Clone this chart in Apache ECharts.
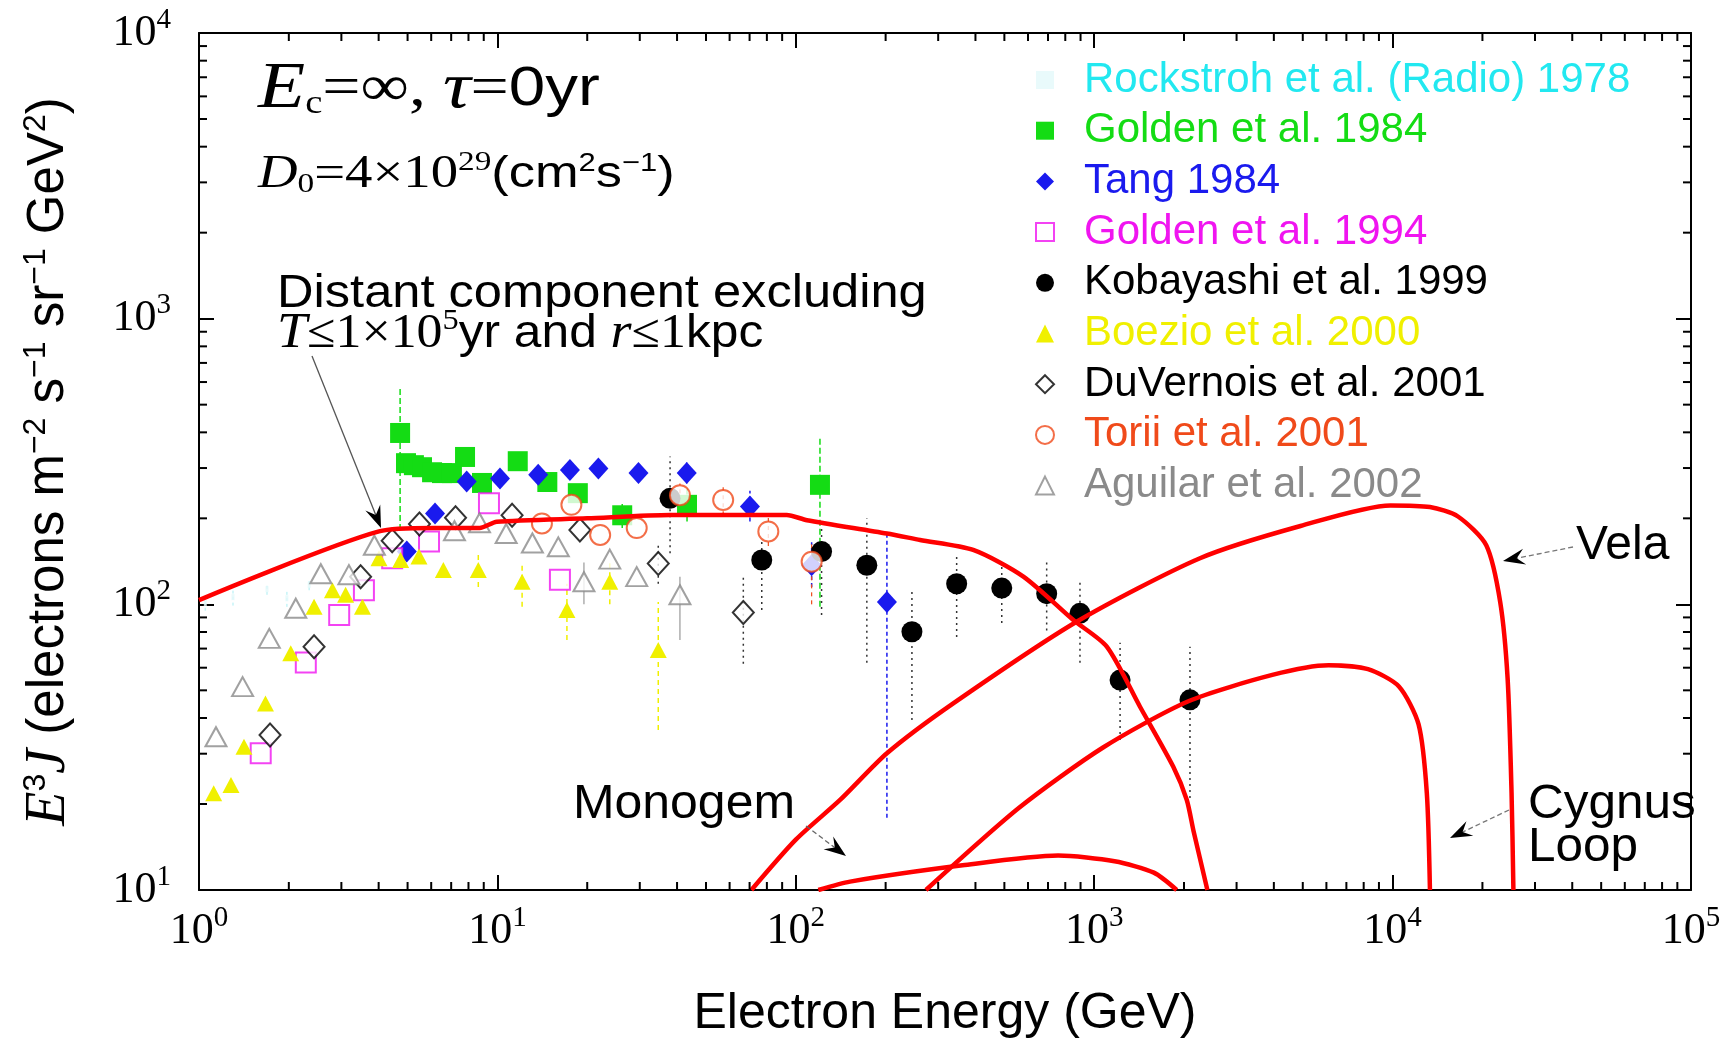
<!DOCTYPE html>
<html><head><meta charset="utf-8">
<script src="https://cdn.jsdelivr.net/npm/echarts/dist/echarts.min.js"></script>
<style>html,body{margin:0;padding:0;background:#fff;}#c{width:1733px;height:1047px;}</style>
</head><body><div id="c"></div>
<script>
// ---------- axis ticks (decade exponents) ----------
const xTickExps = [0, 1, 2, 3, 4, 5];
const yTickExps = [1, 2, 3, 4];

// ---------- legend ----------
const seriesNames = ['Rockstroh et al. (Radio) 1978', 'Golden et al. 1984', 'Tang 1984', 'Golden et al. 1994',
  'Kobayashi et al. 1999', 'Boezio et al. 2000', 'DuVernois et al. 2001', 'Torii et al. 2001', 'Aguilar et al. 2002'];
const seriesColors = ['#22e8f0', '#14dc14', '#1a1aee', '#f014f0', '#000000', '#f0f000', '#000000', '#f04a1a', '#8a8a8a'];

// ---------- data points [E (GeV), E^3 J] ----------
const rockstroh = [[1.05, 101], [1.3, 106], [1.69, 113], [1.97, 105], [2.34, 117]];
const golden84 = [[4.72, 398], [4.94, 312], [5.25, 307], [5.59, 302], [6.04, 290], [6.52, 288], [7.04, 288], [7.79, 328],
  [8.88, 266], [11.7, 317], [14.7, 268], [18.6, 245], [26.2, 205], [43.2, 223], [120.5, 262]];
const tang84 = [[4.97, 153], [6.18, 208], [7.89, 269], [10.2, 276], [13.7, 284], [17.5, 295], [21.8, 299], [29.7, 288],
  [43.1, 288], [70.2, 220], [113, 137], [202, 102]];
const golden94 = [[1.61, 30.1], [2.28, 62.6], [2.95, 91.8], [3.57, 112], [4.44, 145], [5.90, 166], [9.37, 226], [16.2, 122]];
const kobayashi = [[37.9, 235], [76.9, 143], [122, 153], [173, 137], [245, 80.2], [346, 118], [490, 114], [693, 109],
  [896, 93], [1221, 54.3], [2094, 46.3]];
const boezio = [[1.12, 21.8], [1.28, 23.3], [1.415, 31.7], [1.67, 45.0], [2.03, 67.4], [2.43, 98.1], [2.80, 112], [3.10, 108],
  [3.53, 98.1], [4.01, 145], [4.74, 143], [5.46, 147], [6.59, 132], [8.63, 132], [12.1, 120], [17.1, 95.5], [23.8, 120], [34.6, 69.2]];
const duvernois = [[1.73, 34.9], [2.43, 71.1], [3.48, 125], [4.44, 167], [5.48, 191], [7.24, 201], [11.2, 205], [18.9, 182],
  [34.6, 139], [66.7, 93.6]];
const torii = [[14.1, 192], [17.7, 223], [22.1, 175], [29.3, 185], [40.9, 241], [57.1, 232], [80.9, 180], [113, 141]];
const aguilar = [[1.14, 34.4], [1.40, 51.5], [1.72, 76.0], [2.11, 96.9], [2.56, 128], [3.18, 127], [3.87, 161], [7.18, 181],
  [8.71, 193], [10.7, 177], [13.1, 164], [16.0, 159], [19.5, 120], [23.8, 144], [29.3, 125], [40.9, 108]];

// ---------- error bars [E, low, high] ----------
const rockstrohErr = [[1.05, 95, 108], [1.3, 99, 113], [1.69, 108, 119], [1.97, 98, 112], [2.34, 112, 122]];
const golden84Err = [[4.72, 182, 577], [26.2, 185, 230], [43.2, 195, 260], [120.5, 98, 385]];
const tangErr = [[43.1, 265, 315], [70.2, 195, 250], [113, 115, 165], [202, 17.9, 175]];
const kobayashiErr = [[37.9, 151, 329], [76.9, 95.5, 168], [122, 91.8, 190], [173, 62.4, 200], [245, 39.4, 114], [346, 76.9, 149],
  [490, 86, 135], [693, 81, 143], [896, 62.4, 122], [1221, 33.5, 73.3], [2094, 21, 71]];
const boezioErr = [[8.63, 115, 150], [12.1, 98, 140], [17.1, 75, 118], [23.8, 100, 140], [34.6, 36.3, 102]];
const duvernoisErr = [[34.6, 118, 165], [66.7, 62, 125]];
const toriiErr = [[40.9, 215, 265], [57.1, 205, 265], [80.9, 160, 205], [113, 100, 165]];
const aguilarErr = [[19.5, 100, 140], [40.9, 75, 125]];

// ---------- model curves ----------
const distantE = [1, 4.01, 6.05, 8.72, 9.95, 20, 37.9, 93.2, 109, 202, 261, 393, 579, 851, 1102, 1424, 1841, 2042, 2152, 2395];
const distantV = [103.5, 180, 185, 185, 194.5, 200, 205.5, 205.5, 197, 177, 168, 155, 125, 88.1, 71.1, 43.8, 27.0, 20.7, 16.1, 10];
const velaE = [71, 100, 141, 202, 337, 873, 2262, 4913, 9840, 13340, 16560, 20600, 22950, 24290, 25040, 25400];
const velaV = [10, 15, 20.7, 30.1, 45, 86.9, 145, 188, 222, 219, 203, 161, 101.6, 55, 21.9, 10];
const cygnusE = [273, 560, 1074, 2060, 3953, 6100, 8270, 10500, 12220, 13020, 13340];
const cygnusV = [10, 19.4, 31.6, 45.7, 56.6, 61.2, 59.3, 51.6, 38, 21.9, 10];
const monogemE = [119, 152, 362, 757, 1170, 1585, 1890];
const monogemV = [10, 10.7, 12.2, 13.2, 12.6, 11.5, 10];

// ---------- build ----------
const X0 = Math.pow(10, xTickExps[0]), X1 = Math.pow(10, xTickExps[xTickExps.length - 1]);
const Y0 = Math.pow(10, yTickExps[0]), Y1 = Math.pow(10, yTickExps[yTickExps.length - 1]);
const minorX = [], minorY = [];
for (let k = xTickExps[0]; k < xTickExps[xTickExps.length - 1]; k++) for (let m = 2; m <= 9; m++) minorX.push([m * Math.pow(10, k), Y0]);
for (let k = yTickExps[0]; k < yTickExps[yTickExps.length - 1]; k++) for (let m = 2; m <= 9; m++) minorY.push([X0, m * Math.pow(10, k)]);

const zip = (a, b) => a.map((v, i) => [v, b[i]]);
const tickRich = {
  b: { fontFamily: 'Liberation Serif', fontSize: 44, color: '#000' },
  s: { fontFamily: 'Liberation Serif', fontSize: 29, color: '#000', padding: [0, 0, 26, 0] }
};
const tickFmt = v => '{b|10}{s|' + Math.round(Math.log10(v)) + '}';

function errSeries(data, color, dash, width) {
  return {
    type: 'custom', name: 'err', data: data, z: 2, silent: true,
    encode: { x: 0, y: [1, 2] },
    renderItem: (params, api) => {
      const p1 = api.coord([api.value(0), api.value(1)]);
      const p2 = api.coord([api.value(0), api.value(2)]);
      return { type: 'line', shape: { x1: p1[0], y1: p1[1], x2: p2[0], y2: p2[1] },
        style: { stroke: color, lineWidth: width, lineDash: dash } };
    }
  };
}
function minorSeries(data, isX) {
  return {
    type: 'custom', name: 'minor', data: data, z: 5, silent: true,
    encode: { x: 0, y: 1 },
    renderItem: (params, api) => {
      const st = { stroke: '#000', lineWidth: 2 };
      if (isX) {
        const v = api.value(0);
        const p = api.coord([v, Y0]), q = api.coord([v, Y1]);
        return { type: 'group', children: [
          { type: 'line', shape: { x1: p[0], y1: p[1], x2: p[0], y2: p[1] - 8 }, style: st },
          { type: 'line', shape: { x1: q[0], y1: q[1], x2: q[0], y2: q[1] + 8 }, style: st }] };
      } else {
        const v = api.value(1);
        const p = api.coord([X0, v]), q = api.coord([X1, v]);
        return { type: 'group', children: [
          { type: 'line', shape: { x1: p[0], y1: p[1], x2: p[0] + 8, y2: p[1] }, style: st },
          { type: 'line', shape: { x1: q[0], y1: q[1], x2: q[0] - 8, y2: q[1] }, style: st }] };
      }
    }
  };
}
function scatter(i, data, symbol, size, extra) {
  return Object.assign({
    type: 'scatter', name: seriesNames[i], data: data, symbol: symbol, symbolSize: size, z: 3,
    itemStyle: { color: seriesColors[i], borderColor: seriesColors[i], borderWidth: 0, opacity: 1 }
  }, extra || {});
}
function curve(E, V) {
  return { type: 'line', name: 'curve', data: zip(E, V), showSymbol: false, symbol: 'none', smooth: 0.25, z: 4,
    lineStyle: { color: '#f00', width: 4.5 }, silent: true, clip: true };
}

// annotation helpers
const SER = 'Liberation Serif', SAN = 'Liberation Sans';
function txt(x, y, text, rich, sx) {
  return { type: 'text', x: x, y: y, scaleX: sx || 1, z: 50,
    style: { text: text, rich: rich, align: 'left', verticalAlign: 'middle', fill: '#000' } };
}
function arrow(x1, y1, x2, y2, dashed, lineColor) {
  const a = Math.atan2(y2 - y1, x2 - x1), L = 22, W = 8, N = 14;
  const bx = x2 - L * Math.cos(a), by = y2 - L * Math.sin(a);
  const nx = x2 - N * Math.cos(a), ny = y2 - N * Math.sin(a);
  const px = -Math.sin(a) * W, py = Math.cos(a) * W;
  return [
    { type: 'line', z: 50, shape: { x1: x1, y1: y1, x2: nx, y2: ny },
      style: { stroke: lineColor, lineWidth: 1.3, lineDash: dashed ? [5, 3] : null } },
    { type: 'polygon', z: 50, shape: { points: [[x2, y2], [bx + px, by + py], [nx, ny], [bx - px, by - py]] },
      style: { fill: '#000' } }
  ];
}

const richA = {
  ie: { fontFamily: SER, fontStyle: 'italic', fontSize: 66 },
  sb: { fontFamily: SER, fontSize: 33, padding: [28, 0, 0, 0] },
  se: { fontFamily: SER, fontSize: 58 },
  s1: { fontFamily: SAN, fontSize: 56 }
};
const richB = {
  id: { fontFamily: SER, fontStyle: 'italic', fontSize: 46 },
  sb: { fontFamily: SER, fontSize: 28, padding: [20, 0, 0, 0] },
  sr: { fontFamily: SER, fontSize: 46 },
  sp: { fontFamily: SER, fontSize: 28, padding: [0, 0, 24, 0] },
  ss: { fontFamily: SAN, fontSize: 44 },
  sq: { fontFamily: SAN, fontSize: 26, padding: [0, 0, 22, 0] }
};
const richC = {
  it: { fontFamily: SER, fontStyle: 'italic', fontSize: 50 },
  sr: { fontFamily: SER, fontSize: 48 },
  sp: { fontFamily: SER, fontSize: 30, padding: [0, 0, 26, 0] },
  s: { fontFamily: SAN, fontSize: 46 }
};
const richD = { s: { fontFamily: SAN, fontSize: 48 } };

const graphics = [
  txt(258, 90, '{ie|E}{sb|c}{se|=∞, }{ie|τ}{se|=}{s1|0yr}', richA, 1.17),
  txt(258, 175, '{id|D}{sb|0}{sr|=4×10}{sp|29}{ss|(cm}{sq|2}{ss|s}{sq|−1}{ss|)}', richB, 1.19),
  txt(277, 294, '{s|Distant component excluding}', richC, 1.1),
  txt(277, 334, '{it|T}{sr|≤1×10}{sp|5}{s|yr and }{it|r}{sr|≤1}{s|kpc}', richC, 1.08),
  txt(573, 805, '{s|Monogem}', richD, 1.04),
  txt(1576, 546, '{s|Vela}', richD, 1.0),
  txt(1528, 805, '{s|Cygnus}', richD, 1.03),
  txt(1528, 848, '{s|Loop}', richD, 1.03)
].concat(arrow(312, 356, 381, 528, false, '#555'))
 .concat(arrow(806, 826, 846, 856, true, '#666'))
 .concat(arrow(1573, 547, 1503, 561, true, '#777'))
 .concat(arrow(1509, 810, 1450, 838, true, '#777'));

const logAxisCommon = {
  type: 'log', logBase: 10,
  axisLine: { show: true, onZero: false, lineStyle: { color: '#000', width: 2 } },
  axisTick: { show: true, inside: true, length: 15, lineStyle: { color: '#000', width: 2 } },
  splitLine: { show: false }, minorTick: { show: false }, minorSplitLine: { show: false }
};

const option = {
  animation: false,
  backgroundColor: '#fff',
  grid: { left: 199, right: 42, top: 33, bottom: 157, containLabel: false, outerBoundsMode: 'none' },
  xAxis: [
    Object.assign({}, logAxisCommon, { position: 'bottom', min: X0, max: X1, splitNumber: 5,
      axisLabel: { show: true, formatter: tickFmt, rich: tickRich, margin: 14, showMinLabel: true, showMaxLabel: true },
      name: 'Electron Energy (GeV)', nameLocation: 'middle', nameGap: 99,
      nameTextStyle: { fontFamily: SAN, fontSize: 50, color: '#000' } }),
    Object.assign({}, logAxisCommon, { position: 'top', min: X0, max: X1, splitNumber: 5, axisLabel: { show: false } })
  ],
  yAxis: [
    Object.assign({}, logAxisCommon, { position: 'left', min: Y0, max: Y1, splitNumber: 3,
      axisLabel: { show: true, formatter: tickFmt, rich: tickRich, margin: 28, showMinLabel: true, showMaxLabel: true },
      name: '{i|E}{p|3}{i|J}{t| (electrons m}{p|−2}{t| s}{p|−1}{t| sr}{p|−1}{t| GeV}{p|2}{t|)}',
      nameLocation: 'middle', nameGap: 121, nameRotate: 90,
      nameTextStyle: { color: '#000', rich: {
        i: { fontFamily: SER, fontStyle: 'italic', fontSize: 56, color: '#000' },
        t: { fontFamily: SAN, fontSize: 51, color: '#000' },
        p: { fontFamily: SAN, fontSize: 32, color: '#000', padding: [0, 0, 26, 0] } } } }),
    Object.assign({}, logAxisCommon, { position: 'right', min: Y0, max: Y1, splitNumber: 3, axisLabel: { show: false } })
  ],
  legend: {
    orient: 'vertical', left: 1030, top: 54, itemWidth: 18, itemHeight: 18, itemGap: 8.7, selectedMode: false,
    textStyle: { fontFamily: SAN, fontSize: 42, lineHeight: 42, padding: [0, 0, 0, 25] },
    data: seriesNames.map((n, i) => ({ name: n, textStyle: { color: seriesColors[i] } }))
  },
  graphic: graphics,
  series: [
    errSeries(rockstrohErr, '#c6f4f7', [3, 3], 1.5),
    errSeries(golden84Err, '#14dc14', [6, 3], 1.5),
    errSeries(tangErr, '#1a1aee', [4, 3], 1.5),
    errSeries(kobayashiErr, '#333', [2, 4], 1.5),
    errSeries(boezioErr, '#f0f000', [5, 4], 1.5),
    errSeries(duvernoisErr, '#333', [2, 4], 1.5),
    errSeries(toriiErr, '#f04a1a', [4, 4], 1.2),
    errSeries(aguilarErr, '#999', null, 1.2),
    scatter(0, rockstroh, 'rect', [3, 6], { itemStyle: { color: '#e4f9fa' } }),
    scatter(1, golden84, 'rect', 20),
    scatter(2, tang84, 'diamond', [20, 22]),
    scatter(3, golden94, 'emptyRect', 20, { itemStyle: { color: seriesColors[3], borderColor: seriesColors[3], borderWidth: 2 } }),
    scatter(4, kobayashi, 'circle', 21),
    scatter(5, boezio, 'triangle', [17, 16]),
    scatter(6, duvernois, 'emptyDiamond', [21, 23], { itemStyle: { color: '#000', borderColor: '#000', borderWidth: 2 } }),
    scatter(7, torii, 'emptyCircle', 20, { itemStyle: { color: seriesColors[7], borderColor: seriesColors[7], borderWidth: 1.8 } }),
    scatter(8, aguilar, 'emptyTriangle', [21, 19], { itemStyle: { color: seriesColors[8], borderColor: seriesColors[8], borderWidth: 1.8 } }),
    curve(distantE, distantV),
    curve(velaE, velaV),
    curve(cygnusE, cygnusV),
    curve(monogemE, monogemV),
    minorSeries(minorX, true),
    minorSeries(minorY, false)
  ]
};
const chart = echarts.init(document.getElementById('c'), null, { renderer: 'canvas' });
chart.setOption(option);
</script></body></html>
